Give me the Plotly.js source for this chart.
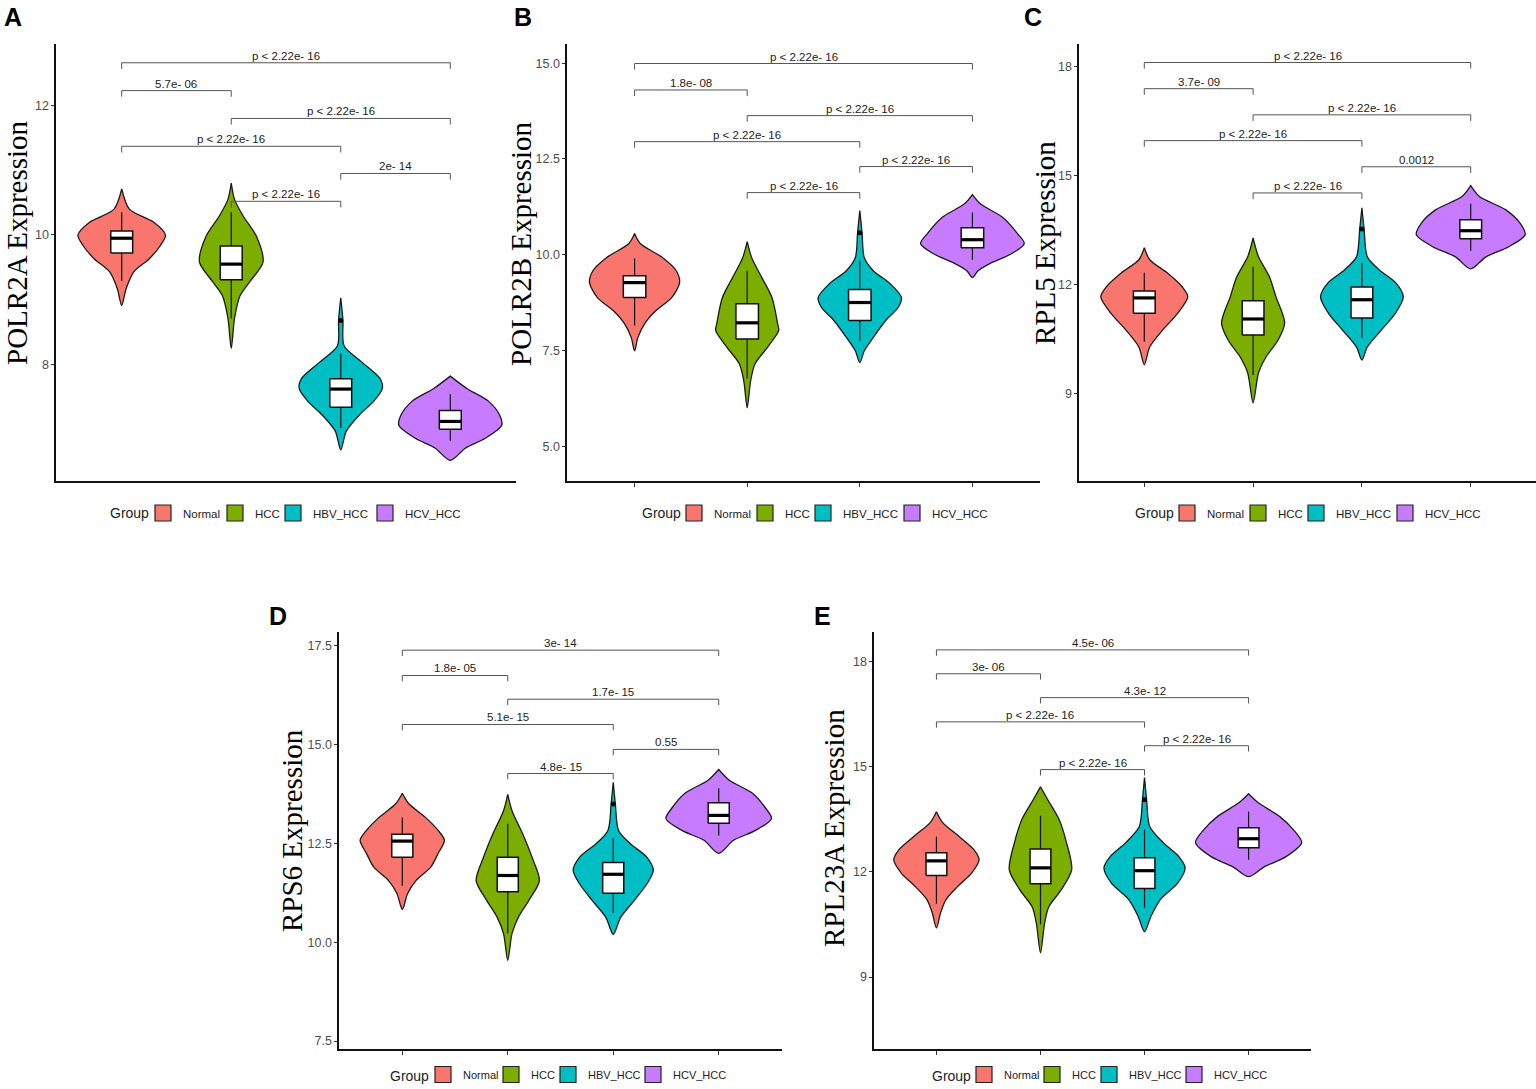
<!DOCTYPE html>
<html><head><meta charset="utf-8">
<script src="https://cdn.plot.ly/plotly-3.0.1.min.js"></script>
<style>body{margin:0;background:#fff}</style>
</head><body><div id="chart" style="width:1536px;height:1089px"></div>
<script>
const groups = ["Normal","HCC","HBV_HCC","HCV_HCC"];
const groupColors = ["#F8766D","#7CAE00","#00BFC4","#C77CFF"];
const genes = ["POLR2A","POLR2B","RPL5","RPS6","RPL23A"];
const panelLetters = ["A","B","C","D","E"];
const comparisons = [[0,3],[0,1],[1,3],[0,2],[2,3],[1,2]];

// ---- POLR2A ----
const violinY_POLR2A = [
  [8.91,9.17,9.43,9.63,9.83,10.0,10.2,10.4,10.71],
  [8.25,8.71,9.06,9.28,9.58,9.98,10.29,10.55,10.8],
  [6.68,6.97,7.22,7.43,7.63,7.78,8.04,8.29,8.68,9.03],
  [6.52,6.71,6.86,7.06,7.22,7.43,7.63,7.82]];
const violinW_POLR2A = [
  [0,0.04,0.11,0.25,0.35,0.40,0.29,0.07,0],
  [0,0.03,0.08,0.17,0.29,0.23,0.11,0.03,0],
  [0,0.05,0.17,0.30,0.38,0.36,0.19,0.03,0.02,0],
  [0,0.14,0.32,0.47,0.45,0.35,0.15,0]];
const whiskerLow_POLR2A = [9.29,8.71,7.02,6.82];
const q1_POLR2A = [9.72,9.31,7.34,7.0];
const median_POLR2A = [9.95,9.55,7.62,7.12];
const q3_POLR2A = [10.06,9.83,7.78,7.29];
const whiskerHigh_POLR2A = [10.35,10.35,8.17,7.54];
const outlier_POLR2A = [null,null,8.68,null];
const bracketY_POLR2A = [12.66,12.23,11.8,11.37,10.95,10.52];
const pLabel_POLR2A = ["p < 2.22e- 16","5.7e- 06","p < 2.22e- 16","p < 2.22e- 16","2e- 14","p < 2.22e- 16"];

// ---- POLR2B ----
const violinY_POLR2B = [
  [7.49,7.84,8.2,8.54,8.88,9.27,9.58,9.92,10.29,10.55],
  [6.0,6.7,7.15,7.58,8.02,8.2,8.88,9.4,9.92,10.34],
  [7.18,7.49,7.84,8.28,8.62,8.88,9.24,9.58,9.92,10.57,11.15],
  [9.4,9.58,9.76,10.03,10.29,10.55,10.97,11.33,11.57]];
const violinW_POLR2B = [
  [0,0.03,0.09,0.19,0.33,0.40,0.37,0.25,0.05,0],
  [0,0.03,0.07,0.18,0.28,0.27,0.22,0.13,0.04,0],
  [0,0.04,0.12,0.23,0.34,0.37,0.27,0.12,0.04,0.02,0],
  [0,0.05,0.15,0.35,0.46,0.40,0.27,0.07,0]];
const whiskerLow_POLR2B = [8.15,6.76,7.75,9.87];
const q1_POLR2B = [8.88,7.8,8.28,10.18];
const median_POLR2B = [9.27,8.22,8.75,10.39];
const q3_POLR2B = [9.45,8.72,9.09,10.7];
const whiskerHigh_POLR2B = [9.9,9.58,9.84,11.1];
const outlier_POLR2B = [null,null,10.57,null];
const bracketY_POLR2B = [14.99,14.3,13.63,12.95,12.3,11.62];
const pLabel_POLR2B = ["p < 2.22e- 16","1.8e- 08","p < 2.22e- 16","p < 2.22e- 16","p < 2.22e- 16","p < 2.22e- 16"];

// ---- RPL5 ----
const violinY_RPL5 = [
  [9.8,10.29,10.76,11.23,11.67,11.94,12.33,12.69,13.02],
  [8.75,9.58,10.02,10.48,10.95,11.67,12.22,12.77,13.29],
  [9.93,10.29,10.76,11.23,11.67,12.06,12.41,12.77,13.54,14.12],
  [12.44,12.77,13.05,13.38,13.71,14.07,14.43,14.73]];
const violinW_RPL5 = [
  [0,0.05,0.17,0.31,0.40,0.35,0.21,0.05,0],
  [0,0.05,0.12,0.23,0.29,0.21,0.15,0.05,0],
  [0,0.05,0.18,0.31,0.38,0.31,0.16,0.05,0.02,0],
  [0,0.14,0.35,0.50,0.45,0.32,0.08,0]];
const whiskerLow_RPL5 = [10.43,9.52,10.54,12.94];
const q1_RPL5 = [11.22,10.62,11.09,13.27];
const median_RPL5 = [11.64,11.06,11.59,13.49];
const q3_RPL5 = [11.83,11.56,11.94,13.79];
const whiskerHigh_RPL5 = [12.33,12.5,12.6,14.23];
const outlier_RPL5 = [null,null,13.54,null];
const bracketY_RPL5 = [18.12,17.4,16.68,15.97,15.25,14.53];
const pLabel_RPL5 = ["p < 2.22e- 16","3.7e- 09","p < 2.22e- 16","p < 2.22e- 16","0.0012","p < 2.22e- 16"];

// ---- RPS6 ----
const violinY_RPS6 = [
  [10.83,11.23,11.56,11.9,12.25,12.58,12.83,13.16,13.51,13.77],
  [9.54,10.22,10.63,11.06,11.56,12.15,12.75,13.33,13.74],
  [10.2,10.63,11.06,11.48,11.82,12.15,12.5,12.83,13.5,14.05],
  [12.25,12.58,12.83,13.13,13.41,13.77,14.1,14.37]];
const violinW_RPS6 = [
  [0,0.05,0.13,0.27,0.34,0.40,0.34,0.22,0.06,0],
  [0,0.04,0.10,0.20,0.30,0.23,0.14,0.04,0],
  [0,0.07,0.20,0.32,0.38,0.32,0.16,0.05,0.02,0],
  [0,0.14,0.35,0.50,0.44,0.32,0.10,0]];
const whiskerLow_RPS6 = [11.43,10.22,10.75,12.7];
const q1_RPS6 = [12.15,11.28,11.24,13.01];
const median_RPS6 = [12.56,11.69,11.72,13.21];
const q3_RPS6 = [12.73,12.15,12.02,13.53];
const whiskerHigh_RPS6 = [13.16,13.0,12.63,13.9];
const outlier_RPS6 = [null,null,13.5,null];
const bracketY_RPS6 = [17.39,16.75,16.15,15.51,14.88,14.27];
const pLabel_RPS6 = ["3e- 14","1.8e- 05","1.7e- 15","5.1e- 15","0.55","4.8e- 15"];

// ---- RPL23A ----
const violinY_RPL23A = [
  [10.4,10.83,11.2,11.57,11.97,12.34,12.63,13.0,13.4,13.71],
  [9.69,10.54,11.0,11.49,12.06,12.83,13.48,14.05,14.42],
  [10.29,10.72,11.2,11.68,12.11,12.43,12.83,13.29,14.05,14.68],
  [11.86,12.14,12.43,12.83,13.2,13.57,13.97,14.22]];
const violinW_RPL23A = [
  [0,0.04,0.09,0.20,0.34,0.41,0.36,0.22,0.06,0],
  [0,0.04,0.08,0.20,0.30,0.25,0.18,0.07,0],
  [0,0.06,0.15,0.32,0.39,0.33,0.18,0.05,0.02,0],
  [0,0.15,0.36,0.51,0.43,0.30,0.09,0]];
const whiskerLow_RPL23A = [11.09,10.5,10.97,12.34];
const q1_RPL23A = [11.89,11.66,11.52,12.68];
const median_RPL23A = [12.31,12.11,12.03,12.94];
const q3_RPL23A = [12.54,12.65,12.4,13.25];
const whiskerHigh_RPL23A = [13.0,13.6,13.2,13.71];
const outlier_RPL23A = [null,null,14.05,null];
const bracketY_RPL23A = [18.32,17.64,16.96,16.27,15.59,14.91];
const pLabel_RPL23A = ["4.5e- 06","3e- 06","4.3e- 12","p < 2.22e- 16","p < 2.22e- 16","p < 2.22e- 16"];

// ---- axis tick settings ----
const yRange_list = [[6.2,12.95],[4.09,15.5],[6.6,18.63],[7.3,17.85],[6.95,18.83]];
const yTickVals_list = [[8,10,12],[5,7.5,10,12.5,15],[9,12,15,18],[7.5,10,12.5,15,17.5],[9,12,15,18]];
const yTickFormat_list = ["d",".1f","d",".1f","d"];

// build panel table from the named arrays
const panels = [
  {gene:"POLR2A", vy:violinY_POLR2A, vw:violinW_POLR2A, lo:whiskerLow_POLR2A, q1:q1_POLR2A, med:median_POLR2A, q3:q3_POLR2A, hi:whiskerHigh_POLR2A, out:outlier_POLR2A, by:bracketY_POLR2A, pl:pLabel_POLR2A},
  {gene:"POLR2B", vy:violinY_POLR2B, vw:violinW_POLR2B, lo:whiskerLow_POLR2B, q1:q1_POLR2B, med:median_POLR2B, q3:q3_POLR2B, hi:whiskerHigh_POLR2B, out:outlier_POLR2B, by:bracketY_POLR2B, pl:pLabel_POLR2B},
  {gene:"RPL5", vy:violinY_RPL5, vw:violinW_RPL5, lo:whiskerLow_RPL5, q1:q1_RPL5, med:median_RPL5, q3:q3_RPL5, hi:whiskerHigh_RPL5, out:outlier_RPL5, by:bracketY_RPL5, pl:pLabel_RPL5},
  {gene:"RPS6", vy:violinY_RPS6, vw:violinW_RPS6, lo:whiskerLow_RPS6, q1:q1_RPS6, med:median_RPS6, q3:q3_RPS6, hi:whiskerHigh_RPS6, out:outlier_RPS6, by:bracketY_RPS6, pl:pLabel_RPS6},
  {gene:"RPL23A", vy:violinY_RPL23A, vw:violinW_RPL23A, lo:whiskerLow_RPL23A, q1:q1_RPL23A, med:median_RPL23A, q3:q3_RPL23A, hi:whiskerHigh_RPL23A, out:outlier_RPL23A, by:bracketY_RPL23A, pl:pLabel_RPL23A}
];

// ---- layout geometry (pixels) ----
const W = 1536, H = 1089;
const plotBox = [[56,516,44,481],[567,1040,44,481],[1079,1536,44,481],[339,782,632,1049],[874,1311,632,1049]];
const titlePos = [[17,243],[521,244],[1045,243],[292,831],[834,828]];
const letterPos = [[13,17],[523,17],[1033,17],[278,616],[822,616]];
const legendY = [513,513,513,1076,1076];
const legendBottom = [false,false,false,true,true];
const groupLabelX = [108,640,1133,388,930];
const firstKeyX = [163,694,1187,443,984];
const legendEntryW = [[27,13,47,60],[26,13,44,60],[26,13,44,60],[23,12,40,60],[23,12,40,60]];
const legendFontSize = [11.5,11.5,11.5,11,11];
const xTicksShown = [false,true,true,true,true];

const SANS = "'Liberation Sans',Arial,sans-serif";
const SERIF = "'Liberation Serif','Times New Roman',serif";

const traces = [];
const annotations = [];
const layout = {
  width: W, height: H, autosize: false,
  margin: {l:0, r:0, t:0, b:0, autoexpand: false},
  paper_bgcolor: "#fff", plot_bgcolor: "#fff",
  showlegend: true,
  annotations: annotations
};

const boxWidth = 0.2;

panels.forEach((P, p) => {
  const s = p === 0 ? "" : String(p + 1);
  const xa = "x" + s, ya = "y" + s;
  const [l, r, t, b] = plotBox[p];
  const yr = yRange_list[p];
  const legName = p === 0 ? "legend" : "legend" + (p + 1);

  layout["xaxis" + s] = {
    domain: [l / W, r / W], anchor: ya, range: [-0.6, 3.6],
    tickvals: [0,1,2,3], ticktext: ["","","",""], ticks: xTicksShown[p] ? "outside" : "", ticklen: 4,
    tickcolor: "#333", tickwidth: 1, showline: true, linecolor: "#111", linewidth: 1.6,
    showgrid: false, zeroline: false, fixedrange: true
  };
  layout["yaxis" + s] = {
    domain: [1 - b / H, 1 - t / H], anchor: xa, range: yr,
    tickvals: yTickVals_list[p], tickformat: yTickFormat_list[p],
    ticks: "outside", ticklen: 3, tickcolor: "#333", tickwidth: 1,
    showline: true, linecolor: "#111", linewidth: 1.6,
    showgrid: false, zeroline: false, fixedrange: true,
    tickfont: {family: SANS, size: 12.5, color: "#4d4d4d"}
  };

  // violins
  P.vy.forEach((ys, g) => {
    const ws = P.vw[g];
    const xs = [], yy = [];
    for (let k = 0; k < ys.length; k++) { xs.push(g + ws[k]); yy.push(ys[k]); }
    for (let k = ys.length - 1; k >= 0; k--) { xs.push(g - ws[k]); yy.push(ys[k]); }
    traces.push({
      type: "scatter", mode: "lines", x: xs, y: yy, fill: "toself",
      fillcolor: groupColors[g],
      line: {color: "#1a1a1a", width: 1.3, shape: "spline", smoothing: 0.8},
      xaxis: xa, yaxis: ya, showlegend: false, hoverinfo: "skip"
    });
  });

  // whiskers
  const wx = [], wy = [];
  P.q1.forEach((q, g) => { wx.push(g, g, null, g, g, null); wy.push(P.lo[g], q, null, P.q3[g], P.hi[g], null); });
  traces.push({type:"scatter", mode:"lines", x: wx, y: wy, line:{color:"#111", width:1.2},
    xaxis: xa, yaxis: ya, showlegend:false, hoverinfo:"skip"});
  // boxes (white rectangles q1..q3)
  P.q1.forEach((q, g) => {
    const x0 = g - boxWidth/2, x1 = g + boxWidth/2;
    traces.push({type:"scatter", mode:"lines", x:[x0,x1,x1,x0,x0], y:[q,q,P.q3[g],P.q3[g],q],
      fill:"toself", fillcolor:"#ffffff", line:{color:"#111", width:1.5},
      xaxis: xa, yaxis: ya, showlegend:false, hoverinfo:"skip"});
  });
  // thick medians
  const mx = [], my = [];
  P.med.forEach((m, g) => { mx.push(g - boxWidth/2, g + boxWidth/2, null); my.push(m, m, null); });
  traces.push({type:"scatter", mode:"lines", x: mx, y: my, line:{color:"#000", width:3.2},
    xaxis: xa, yaxis: ya, showlegend:false, hoverinfo:"skip"});
  // outliers
  traces.push({type:"scatter", mode:"markers", x:[0,1,2,3], y: P.out,
    marker:{color:"#000", size:5}, xaxis: xa, yaxis: ya, showlegend:false, hoverinfo:"skip"});

  // significance brackets
  const tick = (yr[1] - yr[0]) * 0.014;
  const bx = [], byy = [];
  comparisons.forEach((c, k) => {
    const h = P.by[k];
    bx.push(c[0], c[0], c[1], c[1], null);
    byy.push(h - tick, h, h, h - tick, null);
    annotations.push({
      x: (c[0] + c[1]) / 2, y: h, xref: xa, yref: ya, yanchor: "bottom", yshift: -1,
      text: P.pl[k], showarrow: false,
      font: {family: SANS, size: 11.5, color: "#222"}
    });
  });
  traces.push({type:"scatter", mode:"lines", x: bx, y: byy, line:{color:"#555", width:1},
    xaxis: xa, yaxis: ya, showlegend:false, hoverinfo:"skip"});

  // legend entries
  groups.forEach((gname, g) => {
    traces.push({
      type:"scatter", mode:"markers", x:[null], y:[null], name: gname,
      marker:{symbol:"square", size:16, color: groupColors[g], line:{color:"#222", width:1.2}},
      xaxis: xa, yaxis: ya, legend: legName, legendwidth: legendEntryW[p][g],
      showlegend: true, hoverinfo:"skip"
    });
  });
  layout[legName] = {
    orientation: "h", x: (firstKeyX[p] - 20) / W, xanchor: "left",
    y: legendBottom[p] ? 0 : 1 - legendY[p] / H,
    yanchor: legendBottom[p] ? "bottom" : "middle",
    font: {family: SANS, size: legendFontSize[p], color: "#222"},
    bgcolor: "rgba(0,0,0,0)", borderwidth: 0, itemwidth: 30, tracegroupgap: 0,
    entrywidthmode: "pixels"
  };
  annotations.push({
    x: groupLabelX[p] / W, y: 1 - legendY[p] / H, xref: "paper", yref: "paper",
    xanchor: "left", yanchor: "middle", text: "Group", showarrow: false,
    font: {family: SANS, size: 14, color: "#222"}
  });

  // y title
  annotations.push({
    x: titlePos[p][0] / W, y: 1 - titlePos[p][1] / H, xref: "paper", yref: "paper",
    text: P.gene + " Expression", textangle: -90, showarrow: false,
    xanchor: "center", yanchor: "middle",
    font: {family: SERIF, size: 29, color: "#000"}
  });
  // panel letter
  annotations.push({
    x: letterPos[p][0] / W, y: 1 - letterPos[p][1] / H, xref: "paper", yref: "paper",
    text: "<b>" + panelLetters[p] + "</b>", showarrow: false,
    xanchor: "center", yanchor: "middle",
    font: {family: SANS, size: 25, color: "#000"}
  });
});

Plotly.newPlot("chart", traces, layout, {staticPlot: true, displayModeBar: false});
</script>
</body></html>
